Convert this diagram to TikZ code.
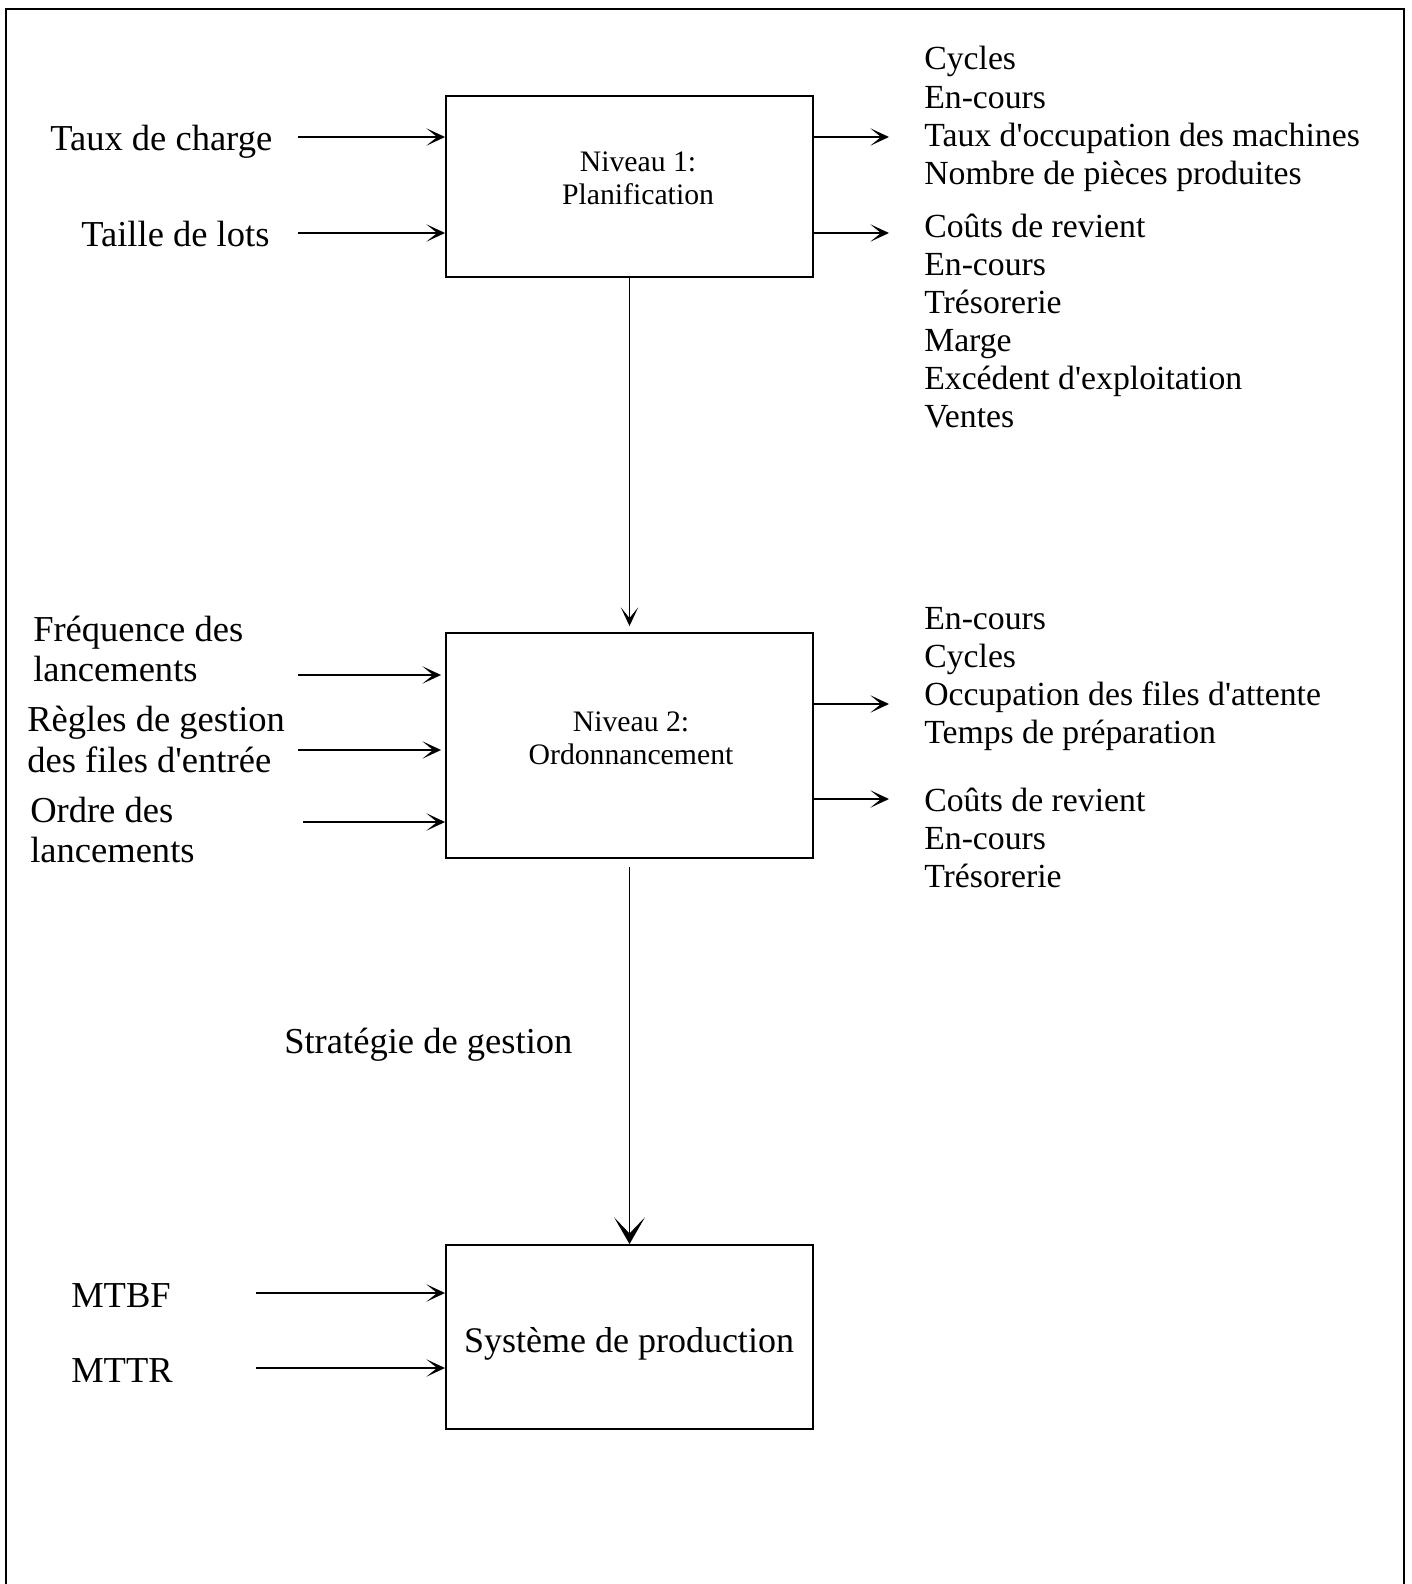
\documentclass[tikz,border=0pt]{standalone}
\usepackage{fontspec}
\setmainfont{Liberation Serif}
\usetikzlibrary{arrows.meta}
\newcommand{\q}{\textquotesingle}
\begin{document}
\begin{tikzpicture}[x=0.75pt,y=-0.75pt,
  box/.style={draw,line width=1.4pt,inner sep=0pt},
  arr/.style={line width=1.4pt,-{Stealth[length=14pt,width=13pt,inset=8pt]}},
  bigarr/.style={line width=1.4pt,-{Stealth[length=20pt,width=23pt,inset=12pt]}},
  lbl/.style={anchor=base west,inner sep=0pt,font=\fontsize{27.4pt}{30pt}\selectfont},
  lst/.style={anchor=base west,inner sep=0pt,font=\fontsize{25.3pt}{28.5pt}\selectfont},
  btxt/.style={align=center,inner sep=0pt,font=\fontsize{22.3pt}{24.75pt}\selectfont},
]
\useasboundingbox (0,0) rectangle (1411,1584);
% outer frame (open at the bottom)
\draw[line width=1.4pt] (6,1584) -- (6,9) -- (1404,9) -- (1404,1584);

% boxes
\node[box,minimum width=367*0.75pt,minimum height=181*0.75pt] (box1) at (629.5,186.5) {};
\node[box,minimum width=367*0.75pt,minimum height=225*0.75pt] (box2) at (629.5,745.5) {};
\node[box,minimum width=367*0.75pt,minimum height=184*0.75pt] (box3) at (629.5,1337) {};

\node[btxt] (t1) at (638,178) {Niveau 1:\\Planification};
\node[btxt] (t2) at (631,738) {Niveau 2:\\Ordonnancement};
\node[inner sep=0pt,font=\fontsize{27pt}{30pt}\selectfont] (t3) at (629,1344) {Système de production};

% left labels
\node[lbl] (l1) at (50,151) {Taux de charge};
\node[lbl] (l2) at (81,246) {Taille de lots};
\node[lbl] (l3a) at (33,641) {Fréquence des};
\node[lbl] (l3b) at (33,681) {lancements};
\node[lbl] (l4a) at (27,731) {Règles de gestion};
\node[lbl] (l4b) at (27,772) {des files d\q entrée};
\node[lbl] (l5a) at (30,822) {Ordre des};
\node[lbl] (l5b) at (30,862) {lancements};
\node[lbl] (l6) at (71,1307) {MTBF};
\node[lbl] (l7) at (71,1382) {MTTR};
\node[lbl] (sg) at (284,1053) {Stratégie de gestion};

% right lists
\foreach \t [count=\i] in {Cycles,En-cours,Taux d\q occupation des machines,Nombre de pièces produites}
  \node[lst] (ra\i) at (924,{70+(\i-1)*38.3}) {\t};
\foreach \t [count=\i] in {Coûts de revient,En-cours,Trésorerie,Marge,Excédent d\q exploitation,Ventes}
  \node[lst] (rb\i) at (924,{237+(\i-1)*38}) {\t};
\foreach \t [count=\i] in {En-cours,Cycles,Occupation des files d\q attente,Temps de préparation}
  \node[lst] (rc\i) at (924,{629+(\i-1)*38}) {\t};
\foreach \t [count=\i] in {Coûts de revient,En-cours,Trésorerie}
  \node[lst] (rd\i) at (924,{811+(\i-1)*38}) {\t};

% input arrow starts
\coordinate (i1) at (298,137);
\coordinate (i2) at (298,233);
\coordinate (i3) at (298,675);
\coordinate (i4) at (298,750);
\coordinate (i5) at (303,822);
\coordinate (i6) at (256,1293);
\coordinate (i7) at (256,1368);
% output arrow ends
\coordinate (o1) at (889,137);
\coordinate (o2) at (889,233);
\coordinate (o3) at (889,704);
\coordinate (o4) at (889,799);

\draw[arr] (i1) -- (i1 -| box1.west);
\draw[arr] (i2) -- (i2 -| box1.west);
\draw[arr] (i3) -- ([xshift=-3pt]i3 -| box2.west);
\draw[arr] (i4) -- ([xshift=-3pt]i4 -| box2.west);
\draw[arr] (i5) -- (i5 -| box2.west);
\draw[arr] (i6) -- (i6 -| box3.west);
\draw[arr] (i7) -- (i7 -| box3.west);

\draw[arr] (o1 -| box1.east) -- (o1);
\draw[arr] (o2 -| box1.east) -- (o2);
\draw[arr] (o3 -| box2.east) -- (o3);
\draw[arr] (o4 -| box2.east) -- (o4);

\draw[arr,shorten >=4.5pt] (box1.south) -- (box2.north);
\draw[bigarr,shorten <=6pt] (box2.south) -- (box3.north);
\end{tikzpicture}
\end{document}
